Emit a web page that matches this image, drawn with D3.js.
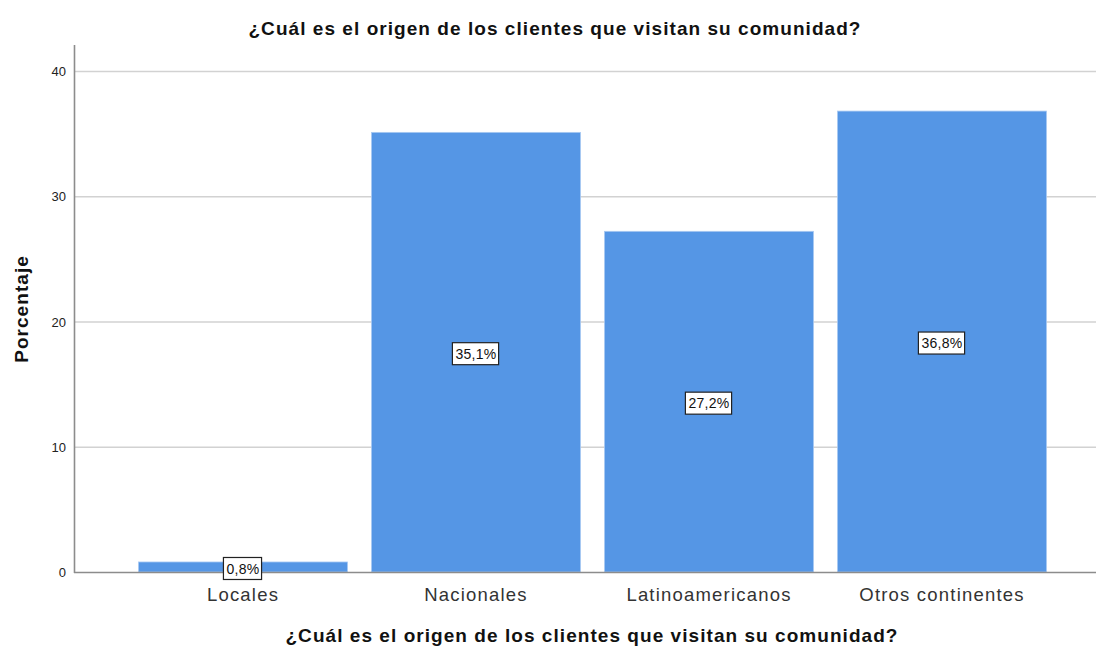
<!DOCTYPE html>
<html>
<head>
<meta charset="utf-8">
<script src="https://cdn.jsdelivr.net/npm/d3@7"></script>
<style>
body { margin: 0; background: #fff; }
svg text { font-family: "Liberation Sans", Arial, sans-serif; }
</style>
</head>
<body>
<svg id="chart" width="1096" height="646"></svg>
<script>
// données
var categorias = ["Locales", "Nacionales", "Latinoamericanos", "Otros continentes"];
var porcentajes = [0.8, 35.1, 27.2, 36.8];
var etiquetas = ["0,8%", "35,1%", "27,2%", "36,8%"];
var ticksY = [0, 10, 20, 30, 40];
var titulo = "¿Cuál es el origen de los clientes que visitan su comunidad?";

var svg = d3.select("#chart");
var x0 = 74, x1 = 1096, yTop = 45, yBase = 572;

var x = d3.scaleBand()
    .domain(categorias)
    .range([126.5, 1058.5])
    .paddingInner(0.103)
    .paddingOuter(0.0515);

var y = d3.scaleLinear()
    .domain([0, 40])
    .range([yBase, 71]);

// lignes de grille
svg.append("g")
    .selectAll("line")
    .data(ticksY.filter(function(d){ return d > 0; }))
    .join("line")
    .attr("x1", x0)
    .attr("x2", x1)
    .attr("y1", function(d){ return y(d) + 0.5; })
    .attr("y2", function(d){ return y(d) + 0.5; })
    .attr("stroke", "#d2d2d2")
    .attr("stroke-width", 1.3);

// barres
svg.append("g")
    .selectAll("rect")
    .data(porcentajes)
    .join("rect")
    .attr("x", function(d, i){ return x(categorias[i]); })
    .attr("width", x.bandwidth())
    .attr("y", function(d){ return y(d); })
    .attr("height", function(d){ return yBase - y(d); })
    .attr("fill", "#5596e5")
    .attr("stroke", "#a9c9f2")
    .attr("stroke-width", 0.8);

// axe Y
var axeY = svg.append("g")
    .attr("transform", "translate(" + x0 + ",0)")
    .call(d3.axisLeft(y).tickValues(ticksY).tickSize(0).tickPadding(8));
axeY.select(".domain").remove();
axeY.selectAll("text")
    .attr("font-size", 13)
    .attr("fill", "#222")
    .attr("dy", "0.35em");

svg.append("line")
    .attr("x1", x0 + 0.5).attr("x2", x0 + 0.5)
    .attr("y1", yTop).attr("y2", yBase + 1)
    .attr("stroke", "#8c8c8c")
    .attr("stroke-width", 1.6);

// axe X
svg.append("line")
    .attr("x1", x0).attr("x2", x1)
    .attr("y1", yBase + 0.5).attr("y2", yBase + 0.5)
    .attr("stroke", "#8c8c8c")
    .attr("stroke-width", 1.4);

var axeX = svg.append("g")
    .attr("transform", "translate(0," + yBase + ")")
    .call(d3.axisBottom(x).tickSize(0).tickPadding(12));
axeX.select(".domain").remove();
axeX.selectAll("text")
    .attr("font-size", 18.5)
    .attr("letter-spacing", 1.2)
    .attr("fill", "#333")
    .attr("dy", "0.9em");

// étiquettes de valeur
var lab = svg.append("g")
    .selectAll("g")
    .data(porcentajes)
    .join("g")
    .attr("transform", function(d, i){
        var cx = x(categorias[i]) + x.bandwidth() / 2;
        var cy = (y(d) + yBase) / 2 + 1.5;
        return "translate(" + cx + "," + cy + ")";
    });

lab.append("text")
    .attr("text-anchor", "middle")
    .attr("dy", "0.36em")
    .attr("font-size", 14)
    .attr("letter-spacing", 0.3)
    .attr("fill", "#111")
    .text(function(d, i){ return etiquetas[i]; });

lab.each(function(){
    var g = d3.select(this);
    var bb = g.select("text").node().getBBox();
    g.insert("rect", "text")
        .attr("x", bb.x - 3)
        .attr("y", -11)
        .attr("width", bb.width + 5)
        .attr("height", 22)
        .attr("fill", "#fff")
        .attr("stroke", "#222")
        .attr("stroke-width", 1.2);
});

// titres
svg.append("text")
    .attr("x", 555)
    .attr("y", 35)
    .attr("text-anchor", "middle")
    .attr("font-size", 19)
    .attr("letter-spacing", 1.05)
    .attr("font-weight", "bold")
    .attr("fill", "#111")
    .text(titulo);

svg.append("text")
    .attr("x", 592)
    .attr("y", 642)
    .attr("text-anchor", "middle")
    .attr("font-size", 19)
    .attr("letter-spacing", 1.05)
    .attr("font-weight", "bold")
    .attr("fill", "#111")
    .text(titulo);

svg.append("text")
    .attr("transform", "translate(28," + 309 + ") rotate(-90)")
    .attr("text-anchor", "middle")
    .attr("font-size", 19)
    .attr("letter-spacing", 1.05)
    .attr("font-weight", "bold")
    .attr("fill", "#111")
    .text("Porcentaje");
</script>
</body>
</html>
